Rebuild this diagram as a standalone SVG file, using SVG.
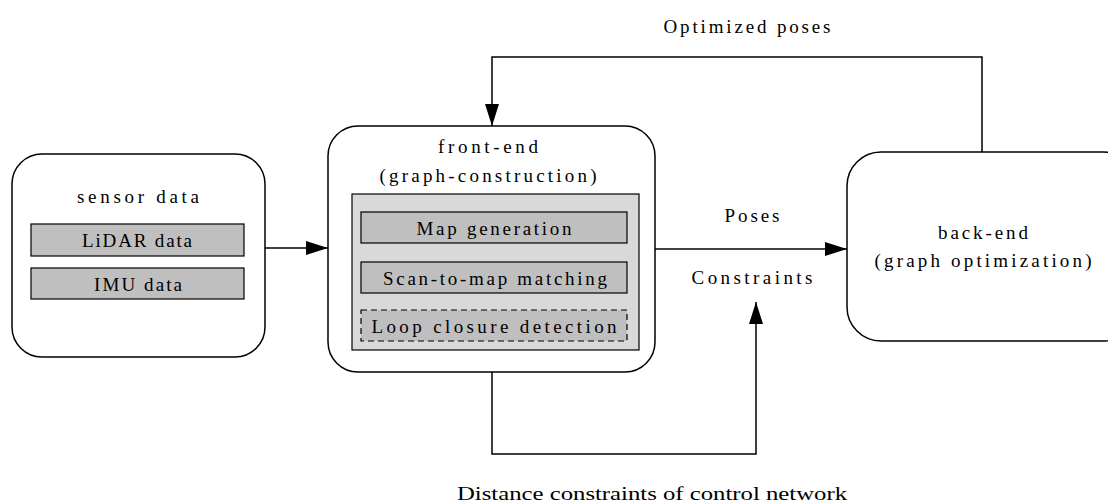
<svg xmlns="http://www.w3.org/2000/svg" width="1108" height="504" viewBox="0 0 1108 504">
<defs>
<style>
.box{fill:#fff;stroke:#000;stroke-width:1.5}
.inner{fill:#bfbfbf;stroke:#000;stroke-width:1.2}
.panel{fill:#d9d9d9;stroke:#000;stroke-width:1.2}
.dash{fill:#bfbfbf;stroke:#000;stroke-width:1.2;stroke-dasharray:6,4}
.t{font-family:"Liberation Serif",serif;font-size:19px;fill:#000;text-anchor:middle}
.w{fill:none;stroke:#000;stroke-width:1.5}
</style>
<marker id="ah" markerWidth="22" markerHeight="14" refX="22" refY="7" orient="auto" markerUnits="userSpaceOnUse">
<path d="M0,0 L22,7 L0,14 Z" fill="#000"/>
</marker>
</defs>
<rect width="1108" height="504" fill="#fff"/>
<g id="connectors">
<line class="w" x1="265" y1="248" x2="328" y2="248" marker-end="url(#ah)"/>
<line class="w" x1="655" y1="249" x2="847" y2="249" marker-end="url(#ah)"/>
<polyline class="w" points="982,152 982,57 492,57 492,126" marker-end="url(#ah)"/>
<polyline class="w" points="492,372 492,454 756,454 756,302" marker-end="url(#ah)"/>
<text class="t" x="747" y="33" textLength="167" lengthAdjust="spacing">Optimized poses</text>
<text class="t" x="752" y="222" textLength="55" lengthAdjust="spacing">Poses</text>
<text class="t" x="752" y="284" textLength="121" lengthAdjust="spacing">Constraints</text>
<text x="652" y="500" font-family="Liberation Serif, serif" font-size="19" text-anchor="middle" textLength="390" lengthAdjust="spacingAndGlyphs">Distance constraints of control network</text>
</g>
<g id="sensor">
<rect class="box" x="12" y="154" width="253" height="203" rx="30" ry="30"/>
<text class="t" x="138" y="203" textLength="122" lengthAdjust="spacing">sensor data</text>
<rect class="inner" x="31" y="224" width="213" height="32"/>
<text class="t" x="137" y="247" textLength="110" lengthAdjust="spacing">LiDAR data</text>
<rect class="inner" x="31" y="268" width="213" height="31"/>
<text class="t" x="138" y="291" textLength="88" lengthAdjust="spacing">IMU data</text>
</g>
<g id="frontend">
<rect class="box" x="328" y="126" width="327" height="246" rx="30" ry="30"/>
<text class="t" x="488" y="153" textLength="100" lengthAdjust="spacing">front-end</text>
<text class="t" x="488" y="182" textLength="217" lengthAdjust="spacing">(graph-construction)</text>
<rect class="panel" x="352" y="194" width="287" height="156"/>
<g id="mapgen">
<rect class="inner" x="361" y="212" width="266" height="31"/>
<text class="t" x="494" y="235" textLength="155" lengthAdjust="spacing">Map generation</text>
</g>
<g id="scan">
<rect class="inner" x="361" y="262" width="266" height="31"/>
<text class="t" x="495" y="285" textLength="224" lengthAdjust="spacing">Scan-to-map matching</text>
</g>
<g id="loop">
<rect class="dash" x="361" y="310" width="266" height="31"/>
<text class="t" x="494" y="333" textLength="245" lengthAdjust="spacing">Loop closure detection</text>
</g>
</g>
<g id="backend">
<rect class="box" x="847" y="152" width="290" height="189" rx="34" ry="34"/>
<text class="t" x="983" y="239" textLength="90" lengthAdjust="spacing">back-end</text>
<text class="t" x="983" y="267" textLength="217" lengthAdjust="spacing">(graph optimization)</text>
</g>
</svg>
